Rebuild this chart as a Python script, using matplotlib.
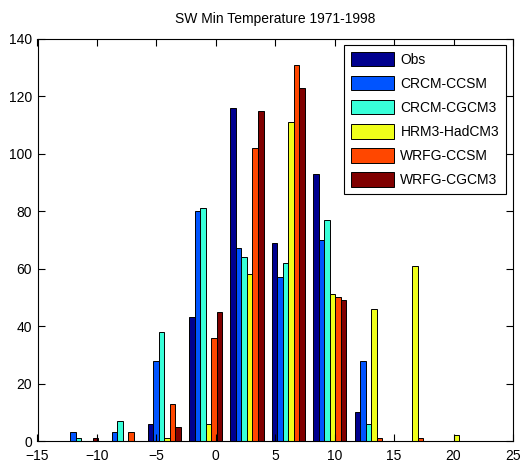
import numpy as np
import matplotlib
matplotlib.use("Agg")
import matplotlib.pyplot as plt

title = "SW Min Temperature 1971-1998"
series_names = ["Obs", "CRCM-CCSM", "CRCM-CGCM3", "HRM3-HadCM3", "WRFG-CCSM", "WRFG-CGCM3"]
bin_centers = [-11.3, -7.82, -4.34, -0.86, 2.62, 6.1, 9.58, 13.06, 16.54, 20.02]

obs        = [0, 0, 6, 43, 116, 69, 93, 10, 0, 0]
crcm_ccsm  = [3, 3, 28, 80, 67, 57, 70, 28, 0, 0]
crcm_cgcm3 = [1, 7, 38, 81, 64, 62, 77, 6, 0, 0]
hrm3       = [0, 0, 1, 6, 58, 111, 51, 46, 61, 2]
wrfg_ccsm  = [0, 3, 13, 36, 102, 131, 50, 1, 1, 0]
wrfg_cgcm3 = [1, 0, 5, 45, 115, 123, 49, 0, 0, 0]
values = [obs, crcm_ccsm, crcm_cgcm3, hrm3, wrfg_ccsm, wrfg_cgcm3]

colors = [(0, 0, 0.5625), (0, 0.33, 1), (0.22, 1, 0.85), (0.94, 1, 0.1),
          (1, 0.28, 0), (0.5, 0, 0)]

plt.rcParams['font.family'] = ['Liberation Sans', 'DejaVu Sans']

fig = plt.figure(figsize=(5.22, 4.69), dpi=100)
ax = fig.add_axes([37.5/522, 1-441/469, (513-37.5)/522, (441-38.7)/469])

centers = np.array(bin_centers)
spacing = centers[1] - centers[0]
n = len(values)
bw = 0.8 * spacing / n
for i, (name, vals, c) in enumerate(zip(series_names, values, colors)):
    offs = (i - (n - 1) / 2) * bw
    ax.bar(centers + offs, vals, width=bw, color=c, edgecolor='black',
           linewidth=0.7, label=name)

ax.set_xlim(-15, 25)
ax.set_ylim(0, 140)
ax.set_xticks(np.arange(-15, 26, 5))
ax.set_yticks(np.arange(0, 141, 20))
ax.tick_params(direction='in', top=True, right=True, length=5, labelsize=10, width=0.8)
ax.tick_params(axis='x', pad=6)
ax.tick_params(axis='y', pad=4)
for s in ax.spines.values():
    s.set_linewidth(0.8)
ax.set_title(title, fontsize=10, pad=11)

leg = ax.legend(loc='upper right', bbox_to_anchor=(506/522, 1-45/469),
                bbox_transform=fig.transFigure, borderaxespad=0,
                fancybox=False, edgecolor='black', framealpha=1,
                fontsize=10, handlelength=3.1, handleheight=1.22,
                labelspacing=0.66, handletextpad=0.43, borderpad=0.5)
leg.get_frame().set_linewidth(0.8)

fig.savefig("out.png", dpi=100)
